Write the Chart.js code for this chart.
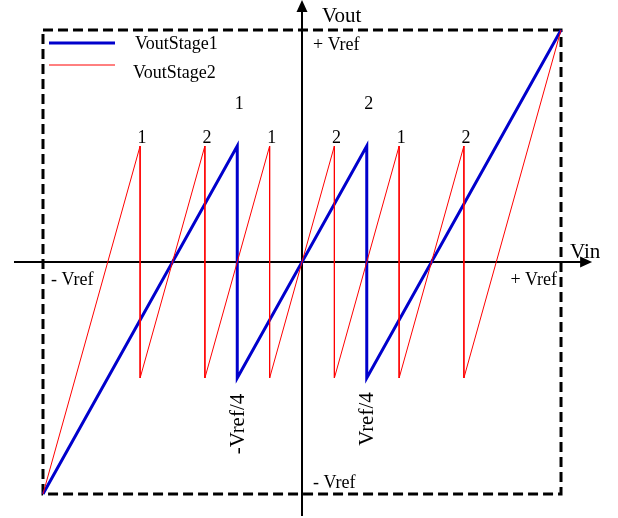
<!DOCTYPE html>
<html>
<head>
<meta charset="utf-8">
<script src="https://cdn.jsdelivr.net/npm/chart.js@4"></script>
<style>
  html, body { margin: 0; padding: 0; background: #fff; }
  canvas { display: block; }
</style>
</head>
<body>
<canvas id="c" width="618" height="518"></canvas>
<script>
// transfer curves, in units of Vref
const stage1X = [-1, -0.25, -0.25, 0.25, 0.25, 1];
const stage1Y = [-1, 0.5, -0.5, 0.5, -0.5, 1];
const stage2X = [-1, -0.625, -0.625, -0.375, -0.375, -0.125, -0.125, 0.125, 0.125, 0.375, 0.375, 0.625, 0.625, 1];
const stage2Y = [-1, 0.5, -0.5, 0.5, -0.5, 0.5, -0.5, 0.5, -0.5, 0.5, -0.5, 0.5, -0.5, 1];

// comparator labels above each drop
const stage1Codes = ['1', '2'];
const stage2Codes = ['1', '2', '1', '2', '1', '2'];

const seriesNames = ['VoutStage1', 'VoutStage2'];

const toPoints = (xs, ys) => xs.map((x, i) => ({x: x, y: ys[i]}));
const dropsOf = (xs) => xs.filter((x, i) => i > 0 && xs[i - 1] === x);

const BLUE = '#0000cc';
const RED = '#ff0000';
const FONT = '"Liberation Serif", "Times New Roman", serif';

const decoPlugin = {
    id: 'deco',
    beforeDatasetsDraw(chart) {
        const ctx = chart.ctx;
        const xs = chart.scales.x, ys = chart.scales.y;
        const px = v => xs.getPixelForValue(v);
        const py = v => ys.getPixelForValue(v);
        ctx.save();
        // dashed frame at +/- Vref
        ctx.strokeStyle = '#000';
        ctx.lineWidth = 3;
        ctx.setLineDash([10, 5]);
        ctx.strokeRect(px(-1), py(1), px(1) - px(-1), py(-1) - py(1));
        ctx.setLineDash([]);
        // axes with arrows
        ctx.lineWidth = 2;
        ctx.beginPath();
        ctx.moveTo(px(-1.112), py(0));
        ctx.lineTo(px(1.09), py(0));
        ctx.moveTo(px(0), py(-1.095));
        ctx.lineTo(px(0), py(1.085));
        ctx.stroke();
        ctx.fillStyle = '#000';
        const ax = px(1.12), ay = py(0);
        ctx.beginPath();
        ctx.moveTo(ax, ay);
        ctx.lineTo(ax - 12, ay - 5.5);
        ctx.lineTo(ax - 12, ay + 5.5);
        ctx.closePath();
        ctx.fill();
        const bx = px(0), by = py(1.129);
        ctx.beginPath();
        ctx.moveTo(bx, by);
        ctx.lineTo(bx - 5.5, by + 12);
        ctx.lineTo(bx + 5.5, by + 12);
        ctx.closePath();
        ctx.fill();
        ctx.restore();
    },
    afterDraw(chart) {
        const ctx = chart.ctx;
        const xs = chart.scales.x, ys = chart.scales.y;
        const px = v => xs.getPixelForValue(v);
        const py = v => ys.getPixelForValue(v);
        ctx.save();
        ctx.fillStyle = '#000';
        ctx.textBaseline = 'alphabetic';

        // legend
        ctx.lineWidth = 3;
        ctx.strokeStyle = BLUE;
        ctx.beginPath(); ctx.moveTo(49, 43); ctx.lineTo(115, 43); ctx.stroke();
        ctx.lineWidth = 1;
        ctx.strokeStyle = RED;
        ctx.beginPath(); ctx.moveTo(49, 65); ctx.lineTo(115, 65); ctx.stroke();
        ctx.font = '18px ' + FONT;
        ctx.textAlign = 'left';
        ctx.fillText(seriesNames[0], 135, 49);
        ctx.fillText(seriesNames[1], 133, 78);

        // axis titles
        ctx.font = '21px ' + FONT;
        ctx.fillText('Vout', 322, 22);
        ctx.fillText('Vin', 570, 258);

        ctx.font = '18px ' + FONT;
        ctx.fillText('+ Vref', px(0) + 11, py(1) + 20);
        ctx.fillText('- Vref', px(0) + 11, py(-1) - 6);
        ctx.fillText('- Vref', px(-1) + 8, py(0) + 23);
        ctx.textAlign = 'right';
        ctx.fillText('+ Vref', px(1) - 4, py(0) + 23);

        // comparator codes
        ctx.textAlign = 'center';
        ctx.font = '18px ' + FONT;
        dropsOf(stage2X).forEach((x, i) => {
            ctx.fillText(stage2Codes[i], px(x) + 2, py(0.5) - 3);
        });
        dropsOf(stage1X).forEach((x, i) => {
            ctx.fillText(stage1Codes[i], px(x) + 2, py(0.5) - 37);
        });

        // threshold labels, rotated
        const th = dropsOf(stage1X);
        ctx.font = '21px ' + FONT;
        ctx.textBaseline = 'middle';
        [['-Vref/4', th[0], 424], ['Vref/4', th[1], 419]].forEach(([t, x, y]) => {
            ctx.save();
            ctx.translate(px(x) + 1, y);
            ctx.rotate(-Math.PI / 2);
            ctx.fillText(t, 0, 0);
            ctx.restore();
        });
        ctx.restore();
    }
};

new Chart(document.getElementById('c'), {
    type: 'scatter',
    data: {
        datasets: [
            {
                label: seriesNames[1],
                data: toPoints(stage2X, stage2Y),
                showLine: true,
                borderColor: RED,
                borderWidth: 1,
                pointRadius: 0,
                tension: 0
            },
            {
                label: seriesNames[0],
                data: toPoints(stage1X, stage1Y),
                showLine: true,
                borderColor: BLUE,
                borderWidth: 3,
                pointRadius: 0,
                tension: 0
            }
        ]
    },
    options: {
        responsive: false,
        animation: false,
        layout: {padding: 0},
        plugins: {legend: {display: false}, tooltip: {enabled: false}},
        scales: {
            x: {type: 'linear', display: false, min: -1.166, max: 1.220},
            y: {type: 'linear', display: false, min: -1.1034, max: 1.1293}
        }
    },
    plugins: [decoPlugin]
});
</script>
</body>
</html>
